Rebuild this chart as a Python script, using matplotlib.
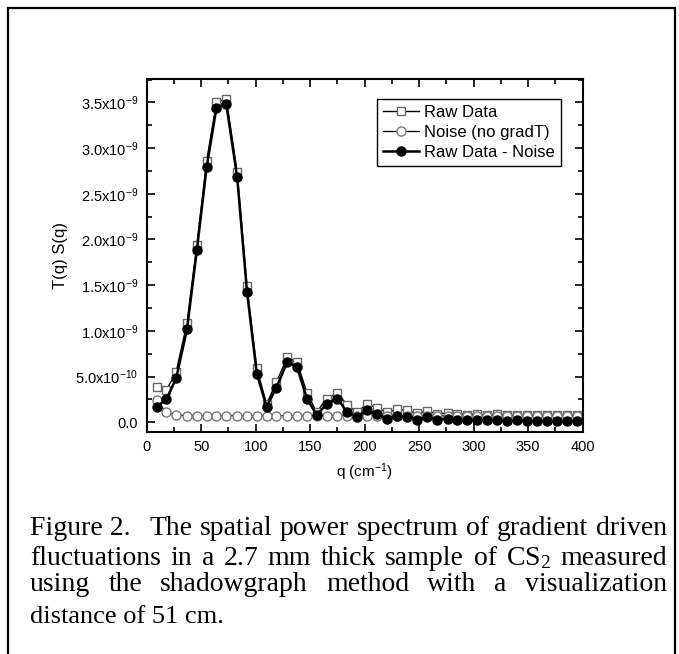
import matplotlib
matplotlib.use('Agg')
import matplotlib.pyplot as plt
import matplotlib.patches as patches
from matplotlib.ticker import MultipleLocator, FuncFormatter

plt.rcParams['font.family'] = ['Liberation Sans', 'DejaVu Sans']
plt.rcParams['mathtext.default'] = 'regular'

# wave number q (cm^-1)
q = [9, 18, 27, 37, 46, 55, 64, 73, 83, 92, 101, 110, 119, 129, 138, 147, 156,
     165, 175, 184, 193, 202, 211, 220, 230, 239, 248, 257, 266, 276, 285, 294,
     303, 312, 321, 331, 340, 349, 358, 367, 376, 386, 395]

# T(q) S(q), in units of 1e-9
raw_data = [0.39, 0.35, 0.55, 1.09, 1.94, 2.86, 3.50, 3.54, 2.74, 1.49, 0.59,
            0.20, 0.44, 0.71, 0.66, 0.32, 0.11, 0.26, 0.32, 0.19, 0.11, 0.20,
            0.16, 0.11, 0.14, 0.13, 0.10, 0.12, 0.095, 0.10, 0.095, 0.085,
            0.09, 0.08, 0.09, 0.078, 0.08, 0.078, 0.078, 0.078, 0.078, 0.078,
            0.078]
noise = [0.24, 0.11, 0.08, 0.073, 0.073, 0.073, 0.073, 0.073, 0.073, 0.073,
         0.073, 0.073, 0.073, 0.073, 0.073, 0.073, 0.073, 0.073, 0.073, 0.073,
         0.073, 0.073, 0.073, 0.073, 0.073, 0.073, 0.073, 0.073, 0.073, 0.073,
         0.073, 0.073, 0.073, 0.073, 0.073, 0.073, 0.073, 0.073, 0.073, 0.073,
         0.073, 0.073, 0.073]
raw_minus_noise = [0.17, 0.25, 0.48, 1.02, 1.88, 2.79, 3.44, 3.48, 2.68, 1.43,
                   0.53, 0.17, 0.38, 0.66, 0.60, 0.26, 0.08, 0.20, 0.26, 0.11,
                   0.06, 0.13, 0.09, 0.04, 0.07, 0.06, 0.03, 0.055, 0.03, 0.035,
                   0.03, 0.02, 0.025, 0.02, 0.025, 0.015, 0.02, 0.01, 0.01, 0.01,
                   0.01, 0.01, 0.01]

caption_lines = [
    ['The', 'spatial', 'power', 'spectrum', 'of', 'gradient', 'driven'],
    ['fluctuations', 'in', 'a', '2.7', 'mm', 'thick', 'sample', 'of', 'CS$_2$', 'measured'],
    ['using', 'the', 'shadowgraph', 'method', 'with', 'a', 'visualization'],
]

W, H = 679, 654
fig = plt.figure(figsize=(W / 100, H / 100), dpi=100)

# frame around the whole figure
fig.patches.append(patches.Rectangle((8 / W, -0.05), 667 / W, 1.05 - 8 / H,
                                     transform=fig.transFigure, fill=False,
                                     lw=1.6, ec='black'))

ax = fig.add_axes([146.7 / W, 1 - 431.7 / H, 436 / W, 352.7 / H])

s = 1e-9
ax.plot(q, [v * s for v in raw_data], '-', color='black', lw=1.0,
        marker='s', ms=6, mfc='white', mec='#666666', mew=1.0, label='Raw Data')
ax.plot(q, [v * s for v in noise], '-', color='black', lw=0.9,
        marker='o', ms=6.5, mfc='white', mec='#777777', mew=1.0, label='Noise (no gradT)')
ax.plot(q, [v * s for v in raw_minus_noise], '-', color='black', lw=1.8,
        marker='o', ms=6.5, mfc='black', mec='black', label='Raw Data - Noise')

ax.set_xlim(0, 400)
ax.set_ylim(-0.103e-9, 3.756e-9)
ax.xaxis.set_major_locator(MultipleLocator(50))
ax.xaxis.set_minor_locator(MultipleLocator(25))
ax.yaxis.set_major_locator(MultipleLocator(0.5e-9))
ax.yaxis.set_minor_locator(MultipleLocator(0.25e-9))


def yfmt(v, pos):
    if abs(v) < 1e-15:
        return '0.0'
    exp = -9 if abs(v) >= 1e-9 else -10
    return '%.1fx10$^{%d}$' % (v / 10 ** exp, exp)


ax.yaxis.set_major_formatter(FuncFormatter(yfmt))
ax.tick_params(which='both', direction='in', top=True, right=True,
               labelsize=10.5, width=1.2)
ax.tick_params(which='major', length=6, pad=6)
ax.tick_params(which='minor', length=3.5)
for sp in ax.spines.values():
    sp.set_linewidth(1.5)

ax.set_xlabel('q (cm$^{-1}$)', fontsize=11, labelpad=5)
ax.set_ylabel('T(q) S(q)', fontsize=12, labelpad=5)

leg = ax.legend(loc='upper right', bbox_to_anchor=(0.950, 0.943),
                borderaxespad=0, fancybox=False, framealpha=1,
                edgecolor='black', fontsize=12, handlelength=2.2,
                handletextpad=0.3, borderpad=0.35, labelspacing=0.3)
leg.get_frame().set_linewidth(1.0)

# caption, justified like the original
cap_font = dict(family=['Liberation Serif', 'DejaVu Serif'], va='baseline')
fig.text(30 / W, 1 - 535 / H, 'Figure 2.', fontsize=20, **cap_font)

fig.canvas.draw()
renderer = fig.canvas.get_renderer()


def justify(words, base, x0, x1, size):
    texts = [fig.text(0, 1 - base / H, w, fontsize=size, **cap_font) for w in words]
    widths = [t.get_window_extent(renderer).width for t in texts]
    gap = (x1 - x0 - sum(widths)) / (len(words) - 1)
    x = x0
    for t, w in zip(texts, widths):
        t.set_x(x / W)
        x += w + gap


justify(caption_lines[0], 535, 149, 667, 20)
justify(caption_lines[1], 565, 30, 667, 20)
justify(caption_lines[2], 591, 30, 667, 20)
fig.text(30 / W, 1 - 623 / H, 'distance of 51 cm.', fontsize=19, **cap_font)

fig.savefig('out.png', dpi=100)
